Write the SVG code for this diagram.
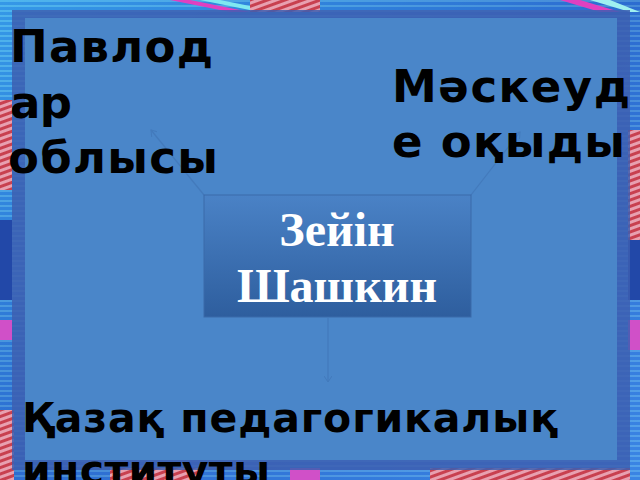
<svg xmlns="http://www.w3.org/2000/svg" width="640" height="480" viewBox="0 0 640 480">
<defs>
<linearGradient id="bg" x1="0" y1="0" x2="1" y2="1">
<stop offset="0" stop-color="#2fa6e6"/>
<stop offset="0.5" stop-color="#1e4fb8"/>
<stop offset="1" stop-color="#3a7fe0"/>
</linearGradient>
<linearGradient id="box" x1="0" y1="0" x2="0" y2="1">
<stop offset="0" stop-color="#4a82c6"/>
<stop offset="1" stop-color="#2e5e9e"/>
</linearGradient>
<pattern id="rw" width="6" height="6" patternUnits="userSpaceOnUse" patternTransform="rotate(-20)">
<rect width="6" height="6" fill="#e8a0b0"/>
<rect width="6" height="3" fill="#c8404f"/>
</pattern>
<pattern id="hs" width="8" height="5" patternUnits="userSpaceOnUse">
<rect width="8" height="5" fill="#3a8ae8"/>
<rect width="8" height="2" fill="#6fc4f4"/>
</pattern>
<marker id="ah" markerWidth="8" markerHeight="8" refX="6" refY="4" orient="auto" markerUnits="userSpaceOnUse">
<path d="M0,0 L6,4 L0,8" fill="none" stroke="#3f73b4" stroke-width="1"/>
</marker>
<style>
.t{font-family:"DejaVu Sans",Verdana,sans-serif;font-weight:bold;font-size:45px;fill:#000}
.b{font-size:41px}
.c{font-family:"Liberation Serif","Times New Roman",serif;font-weight:bold;font-size:48px;fill:#fff;text-anchor:middle}
.cn{fill:none;stroke:#3f73b4;stroke-width:1.2;opacity:0.6}
</style>
</defs>
<g id="background">
<rect width="640" height="480" fill="url(#bg)"/>
<rect x="0" y="0" width="640" height="480" fill="url(#hs)" opacity="0.5"/>
<path d="M170,0 L230,12 L250,12 L190,0Z" fill="#e040c0"/>
<path d="M200,0 L260,12 L280,12 L220,0Z" fill="#7fe8f0"/>
<path d="M560,0 L600,12 L620,12 L580,0Z" fill="#e040c0"/>
<path d="M590,0 L630,12 L640,12 L610,0Z" fill="#9ff0f0"/>
<rect x="250" y="0" width="70" height="12" fill="url(#rw)"/>
<rect x="0" y="100" width="12" height="90" fill="url(#rw)"/>
<rect x="0" y="410" width="14" height="70" fill="url(#rw)"/>
<rect x="628" y="130" width="12" height="110" fill="url(#rw)"/>
<rect x="110" y="468" width="90" height="12" fill="url(#rw)"/>
<rect x="430" y="468" width="200" height="12" fill="url(#rw)"/>
<rect x="0" y="320" width="12" height="20" fill="#d050c8"/>
<rect x="628" y="320" width="12" height="30" fill="#d050c8"/>
<rect x="0" y="220" width="12" height="80" fill="#2248a8"/>
<rect x="628" y="240" width="12" height="60" fill="#2248a8"/>
<rect x="290" y="468" width="30" height="12" fill="#d050c8"/>
</g>
<g id="panel">
<rect x="12" y="10" width="618" height="460" fill="#3d5fb0" opacity="0.85"/>
<rect x="25" y="18" width="592" height="442" fill="#4a86c9"/>
</g>
<g id="connectors">
<path class="cn" d="M204,195 L151,130" marker-end="url(#ah)"/>
<path class="cn" d="M471,195 L520,132" marker-end="url(#ah)"/>
<path class="cn" d="M328,318 L328,382" marker-end="url(#ah)"/>
</g>
<g id="center">
<rect x="204" y="195" width="267" height="122" fill="url(#box)" stroke="#3a6aaa" stroke-width="1"/>
<text class="c" x="337" y="246">Зейін</text>
<text class="c" x="337" y="302">Шашкин</text>
</g>
<g id="n1">
<text class="t" x="10" y="62" textLength="203" lengthAdjust="spacing">Павлод</text>
<text class="t" x="10" y="118" textLength="62" lengthAdjust="spacing">ар</text>
<text class="t" x="8" y="173" textLength="210" lengthAdjust="spacing">облысы</text>
</g>
<g id="n2">
<text class="t" x="392" y="102" textLength="238" lengthAdjust="spacing">Мәскеуд</text>
<text class="t" x="392" y="157" textLength="233" lengthAdjust="spacing">е оқыды</text>
</g>
<g id="n3">
<text class="t b" x="22" y="432" textLength="536" lengthAdjust="spacing">Қазақ педагогикалық</text>
<text class="t b" x="22" y="484" textLength="248" lengthAdjust="spacing">институты</text>
</g>
</svg>
